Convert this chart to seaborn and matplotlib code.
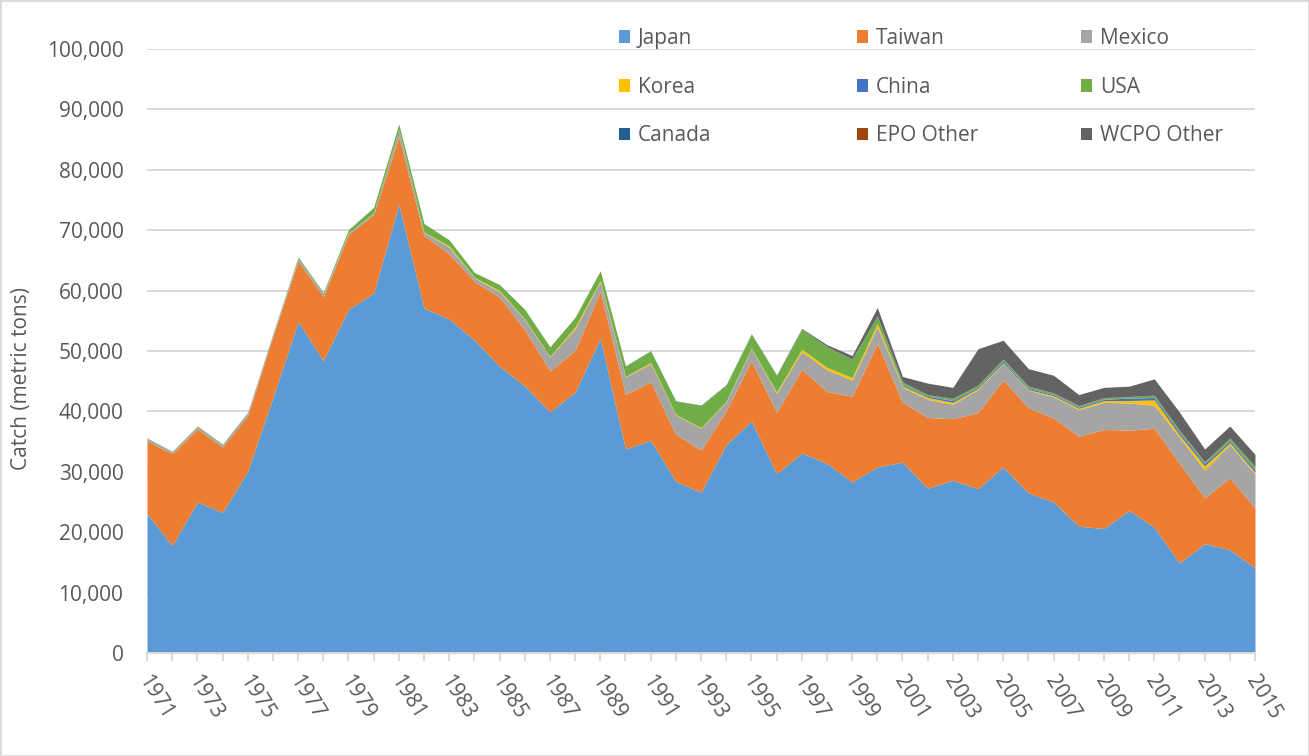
import numpy as np
import pandas as pd
import matplotlib
matplotlib.use("Agg")
import matplotlib.pyplot as plt
import seaborn as sns
from matplotlib.patches import Patch, Rectangle
from matplotlib.ticker import FuncFormatter
from matplotlib.transforms import ScaledTranslation

# Catch by fleet, metric tons
years = list(range(1971, 2016))

japan = [23100, 17800, 25000, 23300, 30100, 42300, 54900, 48400, 56900, 59600,
         74300, 57100, 55300, 51800, 47500, 44200, 39900, 43200, 52100, 33800,
         35200, 28400, 26600, 34500, 38400, 29700, 33100, 31400, 28300, 30800,
         31600, 27300, 28600, 27200, 30800, 26500, 25000, 21000, 20600, 23600,
         20800, 14900, 18100, 17100, 14100]
taiwan = [12000, 15200, 12100, 10800, 9200, 10100, 10000, 10600, 12400, 13000,
          11200, 12000, 10800, 9700, 11400, 9300, 6800, 6900, 7800, 9000,
          9700, 7800, 7000, 5600, 10000, 10100, 13900, 11900, 14200, 20500,
          9900, 11700, 10200, 12600, 14400, 14100, 13900, 14900, 16400, 13300,
          16400, 16500, 7600, 11900, 9900]
mexico = [400, 300, 400, 400, 500, 400, 500, 500, 300, 300,
          1200, 500, 1100, 600, 900, 1700, 2300, 3600, 1600, 2900,
          3000, 3200, 3600, 1500, 2000, 3200, 2900, 3600, 2700, 2700,
          2500, 3000, 2400, 3800, 2700, 2900, 3500, 4400, 4500, 4500,
          3800, 4300, 4600, 5500, 5600]
korea = [0, 0, 0, 0, 0, 0, 0, 0, 0, 0,
         0, 100, 200, 100, 200, 100, 100, 300, 200, 100,
         200, 100, 100, 100, 100, 200, 400, 400, 400, 500,
         200, 300, 300, 200, 100, 100, 200, 200, 300, 400,
         900, 400, 700, 300, 300]
china = [0, 0, 0, 0, 0, 0, 0, 0, 0, 0,
         0, 0, 0, 0, 0, 0, 0, 0, 0, 0,
         0, 0, 0, 0, 0, 0, 0, 0, 0, 50,
         200, 200, 300, 200, 300, 200, 200, 200, 200, 400,
         400, 400, 400, 300, 400]
usa = [100, 100, 100, 100, 100, 100, 200, 200, 500, 900,
       900, 1400, 1000, 800, 1000, 1600, 1600, 1600, 1600, 1700,
       1900, 2200, 3700, 2700, 2300, 2800, 3300, 3400, 3000, 1200,
       400, 200, 300, 300, 300, 300, 200, 200, 200, 200,
       300, 300, 200, 400, 500]
canada = [0, 0, 0, 0, 0, 0, 0, 0, 0, 0,
          0, 0, 0, 0, 0, 0, 0, 0, 0, 50,
          50, 50, 50, 50, 50, 50, 50, 50, 50, 50,
          50, 50, 50, 50, 50, 50, 50, 50, 50, 50,
          50, 50, 50, 50, 50]
epo_other = [0, 0, 0, 0, 0, 0, 0, 0, 0, 0,
             0, 0, 0, 0, 0, 0, 0, 0, 0, 0,
             0, 0, 0, 0, 0, 0, 0, 0, 0, 0,
             30, 30, 30, 30, 30, 30, 30, 30, 30, 30,
             30, 30, 30, 30, 30]
wcpo_other = [0, 0, 0, 0, 0, 0, 0, 0, 0, 0,
              0, 0, 0, 0, 0, 0, 0, 0, 0, 0,
              0, 0, 0, 0, 0, 0, 100, 300, 600, 1400,
              900, 1900, 1800, 6000, 3100, 2900, 2900, 1800, 1700, 1700,
              2700, 3000, 2100, 2000, 2000]

countries = ["Japan", "Taiwan", "Mexico", "Korea", "China", "USA",
             "Canada", "EPO Other", "WCPO Other"]
colors = ["#5B9BD5", "#ED7D31", "#A5A5A5", "#FFC000", "#4472C4", "#70AD47",
          "#255E91", "#9E480E", "#636363"]

df = pd.DataFrame({"year": years, "Japan": japan, "Taiwan": taiwan,
                   "Mexico": mexico, "Korea": korea, "China": china,
                   "USA": usa, "Canada": canada, "EPO Other": epo_other,
                   "WCPO Other": wcpo_other})

sns.set_theme(style="white")
plt.rcParams["font.family"] = ["Open Sans", "DejaVu Sans"]
text_col = "#595959"
grid_col = "#D9D9D9"
palette = sns.color_palette(colors)

fig = plt.figure(figsize=(13.09, 7.56), dpi=100)
ax = fig.add_axes([147 / 1309, 1 - 653 / 756, (1255 - 147) / 1309, (653 - 49) / 756])

ax.stackplot(df["year"], *[df[c] for c in countries], colors=palette,
             linewidth=0, zorder=2)

ax.set_xlim(1971, 2015)
ax.set_ylim(0, 100000)
ax.set_yticks(range(0, 100001, 10000))
ax.yaxis.set_major_formatter(FuncFormatter(lambda v, p: f"{int(v):,}"))
ax.set_xticks(years)
ax.set_xticklabels([str(y) if (y - 1971) % 2 == 0 else "" for y in years])

ax.set_axisbelow(True)
ax.yaxis.grid(True, color=grid_col, lw=1.4)
ax.xaxis.grid(False)
for s in ["top", "right", "left"]:
    ax.spines[s].set_visible(False)
ax.spines["bottom"].set_color(grid_col)
ax.spines["bottom"].set_linewidth(1.4)
ax.spines["bottom"].set_zorder(3)

ax.tick_params(axis="y", length=0, pad=17, labelsize=15, labelcolor=text_col)
ax.tick_params(axis="x", direction="out", length=6, width=1.4, color=grid_col,
               bottom=True, pad=11, labelsize=15, labelcolor=text_col)
shift = ScaledTranslation(-3 / 72, 0, fig.dpi_scale_trans)
for lab in ax.get_xticklabels():
    lab.set_rotation(-58)
    lab.set_ha("left")
    lab.set_va("center")
    lab.set_rotation_mode("anchor")
    lab.set_transform(lab.get_transform() + shift)

ax.set_ylabel("Catch (metric tons)", fontsize=15, color=text_col)
ax.yaxis.set_label_coords(32 / 1309, 0.5, transform=fig.transFigure)

# legend: three columns placed side by side
col_x = [619, 857, 1081]
for j in range(3):
    idx = [j, j + 3, j + 6]
    handles = [Patch(facecolor=colors[i], edgecolor="none") for i in idx]
    fig.legend(handles, [countries[i] for i in idx], loc="upper left",
               bbox_to_anchor=(col_x[j] / 1309, 1 - 28 / 756),
               frameon=False, fontsize=15, labelcolor=text_col, borderpad=0,
               borderaxespad=0, handlelength=0.55, handleheight=0.55,
               handletextpad=0.35, labelspacing=1.33)

fig.add_artist(Rectangle((0, 0), 1, 1, transform=fig.transFigure, fill=False,
                         edgecolor=grid_col, lw=2))

fig.savefig("out.png", dpi=100)
